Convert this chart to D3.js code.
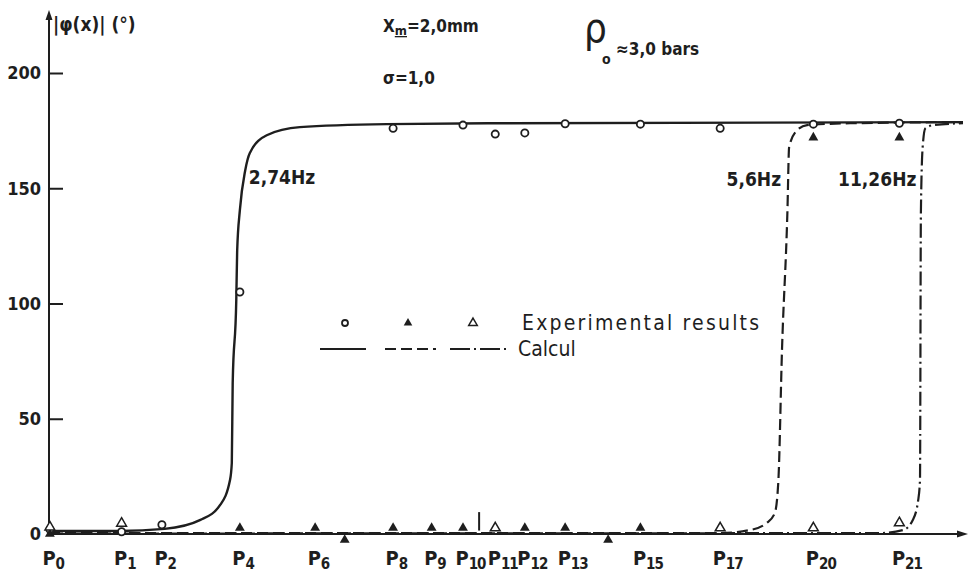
<!DOCTYPE html>
<html><head><meta charset="utf-8">
<script src="https://cdn.jsdelivr.net/npm/d3@7"></script>
<style>body{margin:0;background:#fff}</style>
</head><body><svg id="c" width="969" height="577"></svg>
<script>
// ---- data ----
const probeNames = ["P0","P1","P2","P4","P6","P7","P8","P9","P10","P11","P12","P13","P14","P15","P17","P20","P21"];
const probeX     = [0.1, 8.1, 12.6, 21.3, 29.7, 33.0, 38.4, 42.7, 46.2, 49.8, 53.1, 57.6, 62.4, 66.0, 74.9, 85.3, 94.9];
const labelledProbes = ["P0","P1","P2","P4","P6","P8","P9","P10","P11","P12","P13","P15","P17","P20","P21"];
const yTicks = [0, 50, 100, 150, 200];

// calculated curves [position, |phi| degrees]
const calc274 = [[0,1.3],[7.9,1.3],[12.9,2.2],[16.9,6.1],[19.1,12.6],[20.2,23.4],[20.4,30.8],[20.5,65.5],[20.9,101.5],[21.0,123],[21.3,140.5],[21.9,157.8],[22.4,165.2],[24.3,173],[28.0,176.5],[37.7,177.8],[50.3,178.2],[102,178.7]];
const calc56  = [[0,0.4],[74.9,0.4],[78.2,1.7],[80.1,4.8],[81.0,9.1],[81.4,23.4],[81.8,79.8],[82.4,139.2],[82.6,168],[83.5,175.2],[84.6,177.4],[89.4,178.2],[102,178.7]];
const calc1126= [[0,0.2],[92.7,0.4],[95.3,1.7],[96.4,6.1],[97.0,14.7],[97.2,23.4],[97.3,139.2],[97.5,168],[97.8,176],[98.7,177.4],[102,178.2]];

// experimental results [probe, |phi| degrees]
const exp274  = [["P0",2],["P1",1],["P2",4],["P4",105],["P8",176],["P10",177.4],["P11",173.5],["P12",174],["P13",178],["P15",177.8],["P17",176],["P20",177.8],["P21",178.2]];
const exp56   = [["P0",0],["P4",2.6],["P6",2.6],["P7",-2.6],["P8",2.6],["P9",2.6],["P10",2.6],["P11",2.6],["P12",2.6],["P13",2.6],["P14",-2.6],["P15",2.6],["P20",172],["P21",172]];
const exp1126 = [["P0",3],["P1",4.6],["P11",2.6],["P17",2.6],["P20",2.6],["P21",4.8]];
const refMarks = [48.0];

const freqLabels = [{t:"2,74Hz", p:22.3, v:152, a:"start"},{t:"5,6Hz", p:81.7, v:151, a:"end"},{t:"11,26Hz", p:96.8, v:151, a:"end"}];

// ---- drawing ----
const svg = d3.select("#c");
const ink = "#1e1e1e";
const F = "'DejaVu Sans Condensed','Liberation Sans Narrow',sans-serif";
const x = d3.scaleLinear().domain([0,102]).range([49,963]);
const y = d3.scaleLinear().domain([0,200]).range([534,73]);
const px = Object.fromEntries(probeNames.map((n,i)=>[n,probeX[i]]));

svg.append("rect").attr("width",969).attr("height",577).attr("fill","#fff");

// y axis
const ya = svg.append("g").attr("transform","translate(49,0)")
  .call(d3.axisLeft(y).tickValues(yTicks).tickSizeInner(-14).tickSizeOuter(0).tickPadding(8).tickFormat(d3.format("d")));
ya.select(".domain").remove();
ya.selectAll(".tick line").attr("stroke",ink).attr("stroke-width",2);
ya.selectAll(".tick text").attr("font-family",F).attr("font-size",18).attr("font-weight","bold").attr("fill",ink);
ya.selectAll(".tick").filter(d=>d===0).select("line").remove();

// axis lines + arrows
svg.append("line").attr("x1",49).attr("x2",49).attr("y1",y(0)).attr("y2",14).attr("stroke",ink).attr("stroke-width",2);
svg.append("path").attr("d","M49,10 L45.5,20 L52.5,20Z").attr("fill",ink);
svg.append("line").attr("x1",49).attr("x2",962).attr("y1",y(0)).attr("y2",y(0)).attr("stroke",ink).attr("stroke-width",2);
svg.append("path").attr("d",`M968,${y(0)} L957,${y(0)-3.5} L957,${y(0)+3.5}Z`).attr("fill",ink);

// x axis labels
const xa = svg.append("g").attr("transform",`translate(0,${y(0)})`)
  .call(d3.axisBottom(x).tickValues(labelledProbes.map(n=>px[n])).tickSize(0).tickPadding(0));
xa.select(".domain").remove();
xa.selectAll(".tick text").each(function(d,i){
  const t = d3.select(this).text(null).attr("text-anchor","start").attr("x",-8).attr("y",31).attr("dy",null)
    .attr("font-family",F).attr("font-size",20).attr("font-weight","bold").attr("fill",ink);
  t.append("tspan").text("P");
  t.append("tspan").attr("dy",4).attr("font-size",15).attr("letter-spacing",-1).text(labelledProbes[i].slice(1));
});

// reference mark
svg.selectAll(".ref").data(refMarks).join("line").attr("x1",d=>x(d)).attr("x2",d=>x(d))
  .attr("y1",y(1.5)).attr("y2",y(9.5)).attr("stroke",ink).attr("stroke-width",2);

// curves
const line = d3.line().x(d=>x(d[0])).y(d=>y(d[1])).curve(d3.curveMonotoneX);
svg.append("path").datum(calc1126).attr("d",line).attr("fill","none").attr("stroke",ink).attr("stroke-width",2.2).attr("stroke-dasharray","14,4,2,4");
svg.append("path").datum(calc56).attr("d",line).attr("fill","none").attr("stroke",ink).attr("stroke-width",2.2).attr("stroke-dasharray","11,5");
svg.append("path").datum(calc274).attr("d",line).attr("fill","none").attr("stroke",ink).attr("stroke-width",2.4);

// markers
const tri = d3.symbol(d3.symbolTriangle);
svg.selectAll(".e274").data(exp274).join("circle").attr("cx",d=>x(px[d[0]])).attr("cy",d=>y(d[1])).attr("r",3.6)
  .attr("fill","#fff").attr("stroke",ink).attr("stroke-width",1.8);
svg.selectAll(".e56").data(exp56).join("path").attr("d",tri.size(42)())
  .attr("transform",d=>`translate(${x(px[d[0]])},${y(d[1])})`).attr("fill",ink);
svg.selectAll(".e1126").data(exp1126).join("path").attr("d",tri.size(42)())
  .attr("transform",d=>`translate(${x(px[d[0]])},${y(d[1])})`).attr("fill","#fff").attr("stroke",ink).attr("stroke-width",1.5);

// frequency labels
svg.selectAll(".fl").data(freqLabels).join("text").attr("x",d=>x(d.p)).attr("y",d=>y(d.v)).attr("text-anchor",d=>d.a)
  .attr("font-family",F).attr("font-size",19).attr("font-weight","bold").attr("fill",ink).text(d=>d.t);

// axis title
svg.append("text").attr("x",53).attr("y",31).attr("font-family",F).attr("font-size",19).attr("font-weight","bold").attr("fill",ink)
  .text("|φ(x)|  (°)");

// parameters
const ann = svg.append("g").attr("font-family",F).attr("font-size",17).attr("font-weight","bold").attr("fill",ink);
const xm = ann.append("text").attr("x",383).attr("y",32);
xm.append("tspan").text("X");
xm.append("tspan").attr("dy",3).attr("font-size",13).attr("text-decoration","underline").text("m");
xm.append("tspan").attr("dy",-3).text("=2,0mm");
ann.append("text").attr("x",383).attr("y",84).text("σ=1,0");
ann.append("text").attr("x",584).attr("y",42).attr("font-size",40).attr("font-weight","normal").text("ρ");
ann.append("text").attr("x",602).attr("y",64).attr("font-size",14).text("o");
ann.append("text").attr("x",616).attr("y",55).text("≈3,0 bars");

// legend
const lg = svg.append("g");
lg.append("circle").attr("cx",345).attr("cy",323).attr("r",3).attr("fill","#fff").attr("stroke",ink).attr("stroke-width",1.8);
lg.append("path").attr("d",tri.size(32)()).attr("transform","translate(408,323)").attr("fill",ink);
lg.append("path").attr("d",tri.size(32)()).attr("transform","translate(473,323)").attr("fill","#fff").attr("stroke",ink).attr("stroke-width",1.5);
lg.append("text").attr("x",522).attr("y",330).attr("font-family",F).attr("font-size",21).attr("letter-spacing",2.2).attr("fill",ink).text("Experimental results");
lg.append("line").attr("x1",320).attr("x2",366).attr("y1",349).attr("y2",349).attr("stroke",ink).attr("stroke-width",2.2);
lg.append("line").attr("x1",385).attr("x2",436).attr("y1",349).attr("y2",349).attr("stroke",ink).attr("stroke-width",2.2).attr("stroke-dasharray","11,5");
lg.append("line").attr("x1",450).attr("x2",508).attr("y1",349).attr("y2",349).attr("stroke",ink).attr("stroke-width",2.2).attr("stroke-dasharray","20,4,2,4");
lg.append("text").attr("x",518).attr("y",356).attr("font-family",F).attr("font-size",21).attr("fill",ink).text("Calcul");
</script></body></html>
